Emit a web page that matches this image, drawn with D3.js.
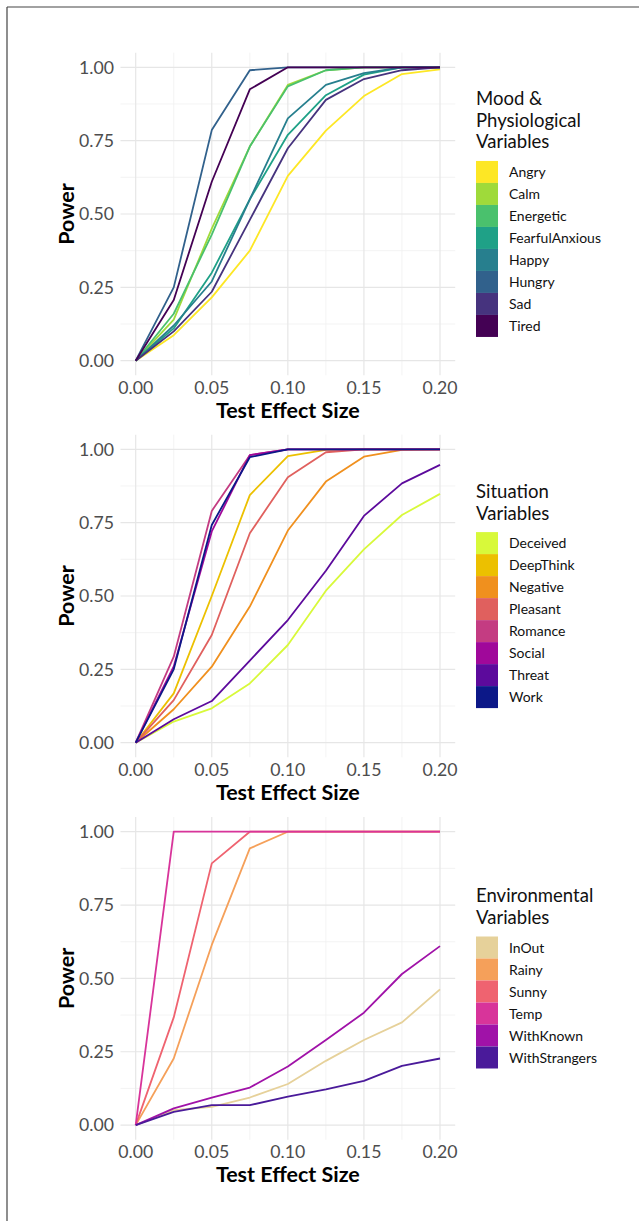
<!DOCTYPE html>
<html>
<head>
<meta charset="utf-8">
<script src="https://cdn.jsdelivr.net/npm/d3@7"></script>
<style>
  html, body { margin: 0; padding: 0; background: #fff; }
  svg { display: block; font-family: Lato, "Open Sans", sans-serif; }
</style>
</head>
<body>
<svg id="chart" width="644" height="1221"></svg>
<script>
// ---------------- DATA ----------------
const effectSizes = [0, 0.025, 0.05, 0.075, 0.1, 0.125, 0.15, 0.175, 0.2];
const xTickValues = [0, 0.05, 0.1, 0.15, 0.2];
const xTickLabels = ["0.00", "0.05", "0.10", "0.15", "0.20"];
const yTickValues = [0, 0.25, 0.5, 0.75, 1];
const yTickLabels = ["0.00", "0.25", "0.50", "0.75", "1.00"];
const xAxisTitle = "Test Effect Size";
const yAxisTitle = "Power";

// Panel 1: Mood & Physiological Variables
const moodTitle = ["Mood &", "Physiological", "Variables"];
const moodNames = ["Angry", "Calm", "Energetic", "FearfulAnxious", "Happy", "Hungry", "Sad", "Tired"];
const moodColors = ["#FDE725", "#9FDA3A", "#4AC16D", "#1FA187", "#277F8E", "#31618C", "#46337E", "#440154"];
const moodAngry          = [0, 0.087, 0.216, 0.375, 0.63, 0.784, 0.902, 0.977, 0.993];
const moodCalm           = [0, 0.14, 0.45, 0.73, 0.94, 0.99, 1, 1, 1];
const moodEnergetic      = [0, 0.16, 0.43, 0.73, 0.935, 0.99, 1, 1, 1];
const moodFearfulAnxious = [0, 0.11, 0.30, 0.55, 0.77, 0.905, 0.975, 1, 1];
const moodHappy          = [0, 0.12, 0.27, 0.55, 0.826, 0.94, 0.98, 1, 1];
const moodHungry         = [0, 0.25, 0.786, 0.99, 1, 1, 1, 1, 1];
const moodSad            = [0, 0.10, 0.235, 0.48, 0.724, 0.889, 0.96, 0.99, 1];
const moodTired          = [0, 0.207, 0.61, 0.925, 1, 1, 1, 1, 1];

// Panel 2: Situation Variables
const sitTitle = ["Situation", "Variables"];
const sitNames = ["Deceived", "DeepThink", "Negative", "Pleasant", "Romance", "Social", "Threat", "Work"];
const sitColors = ["#D8F93A", "#ECC000", "#F0901E", "#E0605E", "#C43C82", "#A0089A", "#5C0A9C", "#0C1888"];
const sitDeceived  = [0, 0.072, 0.117, 0.202, 0.333, 0.518, 0.659, 0.776, 0.848];
const sitDeepThink = [0, 0.168, 0.5, 0.844, 0.977, 0.998, 1, 1, 1];
const sitNegative  = [0, 0.114, 0.259, 0.464, 0.723, 0.89, 0.975, 0.998, 1];
const sitPleasant  = [0, 0.145, 0.367, 0.714, 0.905, 0.99, 1, 1, 1];
const sitRomance   = [0, 0.293, 0.79, 0.98, 1, 1, 1, 1, 1];
const sitSocial    = [0, 0.26, 0.72, 0.98, 1, 1, 1, 1, 1];
const sitThreat    = [0, 0.08, 0.142, 0.28, 0.418, 0.586, 0.773, 0.884, 0.947];
const sitWork      = [0, 0.25, 0.742, 0.973, 1, 1, 1, 1, 1];

// Panel 3: Environmental Variables
const envTitle = ["Environmental", "Variables"];
const envNames = ["InOut", "Rainy", "Sunny", "Temp", "WithKnown", "WithStrangers"];
const envColors = ["#E6D19A", "#F5A05A", "#EF6370", "#D8349A", "#A012A8", "#4A1A9A"];
const envInOut         = [0, 0.051, 0.0625, 0.094, 0.14, 0.219, 0.29, 0.35, 0.4625];
const envRainy         = [0, 0.227, 0.614, 0.943, 1, 1, 1, 1, 1];
const envSunny         = [0, 0.367, 0.892, 1, 1, 1, 1, 1, 1];
const envTemp          = [0, 1, 1, 1, 1, 1, 1, 1, 1];
const envWithKnown     = [0, 0.057, 0.094, 0.128, 0.2, 0.29, 0.383, 0.515, 0.61];
const envWithStrangers = [0, 0.045, 0.068, 0.068, 0.097, 0.122, 0.151, 0.202, 0.227];

const panels = [
  { title: moodTitle, names: moodNames, colors: moodColors,
    series: [moodAngry, moodCalm, moodEnergetic, moodFearfulAnxious, moodHappy, moodHungry, moodSad, moodTired] },
  { title: sitTitle, names: sitNames, colors: sitColors,
    series: [sitDeceived, sitDeepThink, sitNegative, sitPleasant, sitRomance, sitSocial, sitThreat, sitWork] },
  { title: envTitle, names: envNames, colors: envColors,
    series: [envInOut, envRainy, envSunny, envTemp, envWithKnown, envWithStrangers] }
];

// ---------------- LAYOUT ----------------
const svg = d3.select("#chart");
const panelTops = [67.3, 449.3, 831.7];   // pixel of y = 1.00
const panelHeight = 293.4;                // from 1.00 to 0.00
const x = d3.scaleLinear().domain([0, 0.2]).range([135.7, 440]);
const xExp = [-0.01, 0.21];
const yExp = [-0.05, 1.05];

// frame
svg.append("line").attr("x1", 7).attr("x2", 7).attr("y1", 7).attr("y2", 1221)
  .attr("stroke", "#444").attr("stroke-width", 1.2);
svg.append("line").attr("x1", 7).attr("x2", 639).attr("y1", 7).attr("y2", 7)
  .attr("stroke", "#444").attr("stroke-width", 1.2);

const allTick = [], allAxisTitle = [], allLegLabel = [], allLegTitle = [];

panels.forEach((p, pi) => {
  const top = panelTops[pi];
  const y = d3.scaleLinear().domain([0, 1]).range([top + panelHeight, top]);
  const g = svg.append("g");

  // grid
  const xMinor = d3.range(-0.025, 0.2251, 0.025).filter(v => v > xExp[0] && v < xExp[1] && !xTickValues.some(t => Math.abs(t - v) < 1e-9));
  const yMinor = [0.125, 0.375, 0.625, 0.875];
  g.selectAll(".xminor").data(xMinor).join("line")
    .attr("x1", d => x(d)).attr("x2", d => x(d))
    .attr("y1", y(yExp[0])).attr("y2", y(yExp[1]))
    .attr("stroke", "#f0f0f0").attr("stroke-width", 0.8);
  g.selectAll(".yminor").data(yMinor).join("line")
    .attr("x1", x(xExp[0])).attr("x2", x(xExp[1]))
    .attr("y1", d => y(d)).attr("y2", d => y(d))
    .attr("stroke", "#f0f0f0").attr("stroke-width", 0.8);
  g.selectAll(".xmajor").data(xTickValues).join("line")
    .attr("x1", d => x(d)).attr("x2", d => x(d))
    .attr("y1", y(yExp[0])).attr("y2", y(yExp[1]))
    .attr("stroke", "#e6e6e6").attr("stroke-width", 1.2);
  g.selectAll(".ymajor").data(yTickValues).join("line")
    .attr("x1", x(xExp[0])).attr("x2", x(xExp[1]))
    .attr("y1", d => y(d)).attr("y2", d => y(d))
    .attr("stroke", "#e6e6e6").attr("stroke-width", 1.2);

  // tick labels
  xTickValues.forEach((v, i) => {
    allTick.push(g.append("text").attr("x", x(v)).attr("y", y(0) + 33)
      .attr("text-anchor", "middle").attr("fill", "#4d4d4d").attr("font-size", 16)
      .text(xTickLabels[i]).node());
  });
  yTickValues.forEach((v, i) => {
    allTick.push(g.append("text").attr("x", 114).attr("y", y(v))
      .attr("dy", "0.36em")
      .attr("text-anchor", "end").attr("fill", "#4d4d4d").attr("font-size", 16)
      .text(yTickLabels[i]).node());
  });

  // axis titles
  allAxisTitle.push(g.append("text").attr("x", x(0.1)).attr("y", y(0) + 57)
    .attr("text-anchor", "middle").attr("font-weight", "bold").attr("fill", "#000")
    .attr("font-size", 20).text(xAxisTitle).node());
  allAxisTitle.push(g.append("text")
    .attr("transform", `translate(74,${y(0.5)}) rotate(-90)`)
    .attr("text-anchor", "middle").attr("font-weight", "bold").attr("fill", "#000")
    .attr("font-size", 20).text(yAxisTitle).node());

  // lines
  const line = d3.line().x((d, i) => x(effectSizes[i])).y(d => y(d));
  p.series.forEach((s, si) => {
    g.append("path").datum(s).attr("d", line)
      .attr("fill", "none").attr("stroke", p.colors[si])
      .attr("stroke-width", 1.8).attr("stroke-linejoin", "round");
  });

  // legend
  const keyH = 22;
  const nKeys = p.names.length;
  const titleLines = p.title.length;
  const lineH = 21.7;
  const totalH = 14 + (titleLines - 1) * lineH + 12.5 + nKeys * keyH;
  const legTop = y(0.5) - totalH / 2;        // cap-top of first title line
  const firstBaseline = legTop + 14;
  const lg = svg.append("g");
  p.title.forEach((t, ti) => {
    allLegTitle.push(lg.append("text").attr("x", 476).attr("y", firstBaseline + ti * lineH)
      .attr("fill", "#111").attr("font-size", 18).text(t).node());
  });
  const keysTop = firstBaseline + (titleLines - 1) * lineH + 12.5;
  p.names.forEach((n, ni) => {
    lg.append("rect").attr("x", 476).attr("y", keysTop + ni * keyH)
      .attr("width", 22).attr("height", keyH).attr("fill", p.colors[ni]);
    allLegLabel.push(lg.append("text").attr("x", 509).attr("y", keysTop + ni * keyH + keyH / 2)
      .attr("dy", "0.36em").attr("fill", "#111").attr("font-size", 13).text(n).node());
  });
});

// fit font sizes to measured widths in the reference
function fit(nodes, refText, target) {
  const ref = nodes.find(n => n.textContent === refText);
  if (!ref) return;
  const cur = parseFloat(ref.getAttribute("font-size"));
  const w = ref.getComputedTextLength();
  const size = cur * target / w;
  nodes.forEach(n => n.setAttribute("font-size", size.toFixed(2)));
}
fit(allTick, "0.00", 35);
fit(allAxisTitle, "Test Effect Size", 144);
fit(allLegLabel, "FearfulAnxious", 92);
fit(allLegTitle, "Physiological", 105);
</script>
</body>
</html>
